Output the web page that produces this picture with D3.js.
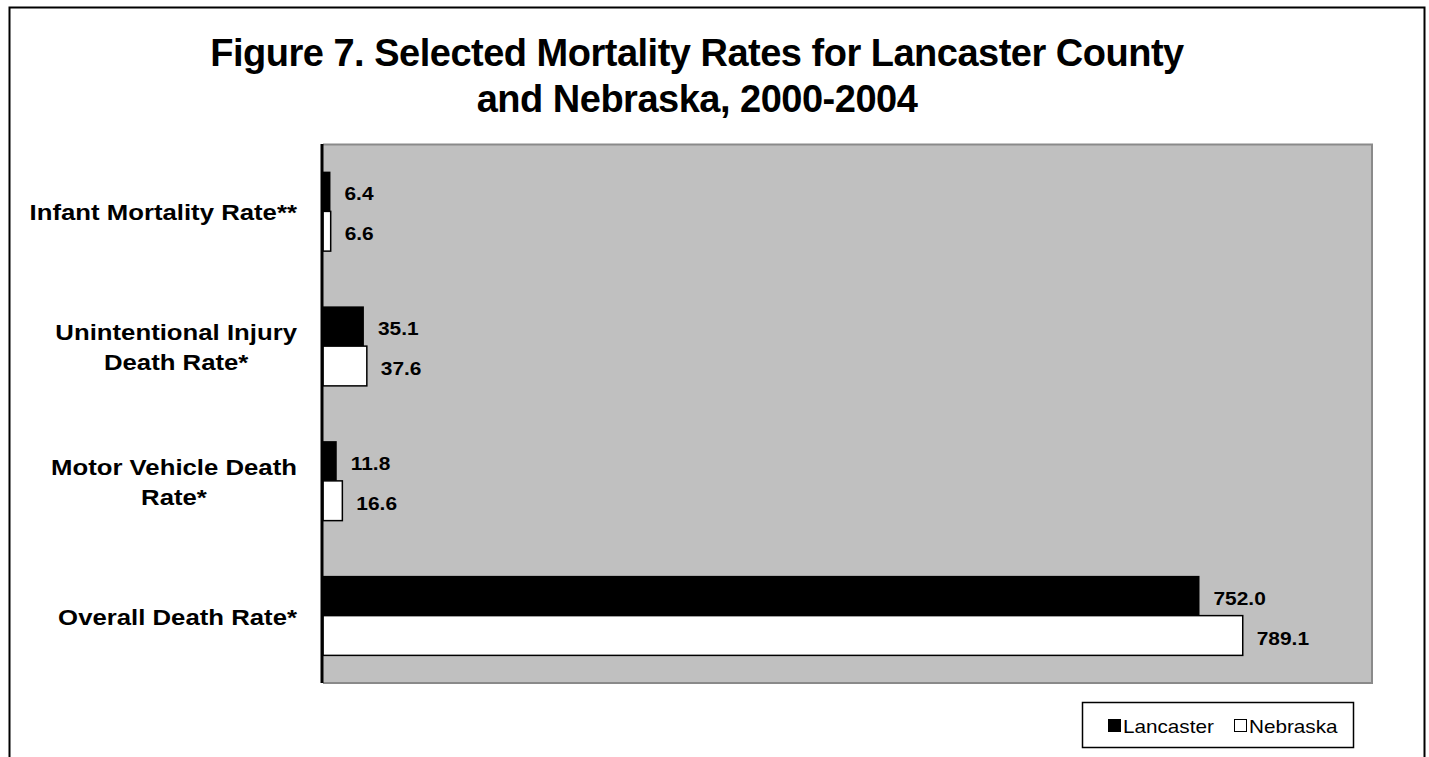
<!DOCTYPE html>
<html>
<head>
<meta charset="utf-8">
<script src="https://cdn.jsdelivr.net/npm/d3@7"></script>
<style>
  html, body { margin: 0; padding: 0; background: #fff; }
  svg { display: block; }
  text { font-family: "Liberation Sans", Arial, sans-serif; fill: #000; }
</style>
</head>
<body>
<svg id="chart" width="1429" height="757"></svg>
<script>
// ---- data ----
const titleLines = ["Figure 7. Selected Mortality Rates for Lancaster County", "and Nebraska, 2000-2004"];
const categories = ["Infant Mortality Rate**", "Unintentional Injury Death Rate*", "Motor Vehicle Death Rate*", "Overall Death Rate*"];
const categoryLines = [["Infant Mortality Rate**"], ["Unintentional Injury", "Death Rate*"], ["Motor Vehicle Death", "Rate*"], ["Overall Death Rate*"]];
const seriesNames = ["Lancaster", "Nebraska"];
const lancaster = [6.4, 35.1, 11.8, 752.0];
const nebraska = [6.6, 37.6, 16.6, 789.1];
const xDomain = [0, 900];

// ---- layout ----
const svg = d3.select("#chart");
const plot = { left: 323, right: 1372, top: 144, bottom: 683 };
const SX = 1.15; // horizontal text stretch of the original rendering

// outer frame
svg.append("rect").attr("x", 9.5).attr("y", 7.5).attr("width", 1415).attr("height", 820)
  .attr("fill", "#fff").attr("stroke", "#000").attr("stroke-width", 2);

// title
const titleG = svg.append("g");
titleLines.forEach((t, i) => {
  titleG.append("text")
    .attr("transform", `translate(697,${66 + i * 46})`)
    .attr("text-anchor", "middle")
    .attr("font-size", 38).attr("font-weight", "bold")
    .attr("letter-spacing", -0.5)
    .text(t);
});

// scales
const x = d3.scaleLinear().domain(xDomain).range([plot.left, plot.right]);
const y = d3.scaleBand().domain(categories).range([plot.top, plot.bottom])
  .paddingInner(0.41).paddingOuter(0.205);
const ySub = d3.scaleBand().domain(seriesNames).range([0, y.bandwidth()]);

// plot background
svg.append("rect").attr("x", plot.left).attr("y", plot.top)
  .attr("width", plot.right - plot.left).attr("height", plot.bottom - plot.top)
  .attr("fill", "#c0c0c0");
// gray border top/right/bottom
svg.append("path")
  .attr("d", `M${plot.left},${plot.top + 0.5}H${plot.right}V${plot.bottom}H${plot.left}`)
  .attr("fill", "none").attr("stroke", "#8a8a8a").attr("stroke-width", 2);

// bars
const rows = categories.map((c, i) => ({ c, vals: [lancaster[i], nebraska[i]] }));
const groups = svg.append("g").selectAll("g").data(rows).join("g")
  .attr("transform", d => `translate(0,${y(d.c)})`);

groups.selectAll("rect").data(d => d.vals.map((v, j) => ({ v, s: seriesNames[j] })))
  .join("rect")
  .attr("x", x(0))
  .attr("y", d => ySub(d.s))
  .attr("width", d => x(d.v) - x(0))
  .attr("height", ySub.bandwidth())
  .attr("fill", d => d.s === "Lancaster" ? "#000" : "#fff")
  .attr("stroke", "#000")
  .attr("stroke-width", d => d.s === "Lancaster" ? 0 : 1.5);

groups.selectAll("text.val").data(d => d.vals.map((v, j) => ({ v, s: seriesNames[j] })))
  .join("text").attr("class", "val")
  .attr("transform", d => `translate(${x(d.v) + 14},${ySub(d.s) + ySub.bandwidth() / 2 + 9}) scale(1.1,1)`)
  .attr("font-size", 19).attr("font-weight", "bold")
  .text(d => d.v.toFixed(1));

// left axis
const axis = svg.append("g").attr("transform", `translate(${plot.left - 1},0)`)
  .call(d3.axisLeft(y).tickSize(0).tickFormat(""));
axis.select(".domain").attr("stroke", "#000").attr("stroke-width", 3)
  .attr("d", `M0,${plot.top}V${plot.bottom}`);

// category labels
const labG = svg.append("g");
const LSX = 1.17;
categories.forEach((c, i) => {
  const lines = categoryLines[i];
  const cy = y(c) + y.bandwidth() / 2;
  const g = labG.append("g");
  const texts = lines.map((ln, k) => g.append("text")
    .attr("font-size", 22).attr("font-weight", "bold")
    .attr("text-anchor", "middle")
    .text(ln));
  const widths = texts.map(t => t.node().getComputedTextLength() * LSX);
  const maxW = d3.max(widths);
  const cx = 297 - maxW / 2;
  const n = lines.length;
  texts.forEach((t, k) => {
    const by = cy + 9 + (k - (n - 1) / 2) * 30;
    t.attr("transform", `translate(${cx},${by}) scale(${LSX},1)`);
  });
});

// legend
const leg = svg.append("g");
leg.append("rect").attr("x", 1082.5).attr("y", 702.5).attr("width", 271).attr("height", 45)
  .attr("fill", "#fff").attr("stroke", "#000").attr("stroke-width", 1.5);
const legX = [1108, 1234];
seriesNames.forEach((s, i) => {
  leg.append("rect").attr("x", legX[i] + 0.5).attr("y", 719.5).attr("width", 12).attr("height", 12)
    .attr("fill", i === 0 ? "#000" : "#fff").attr("stroke", "#000").attr("stroke-width", 1);
  leg.append("text")
    .attr("transform", `translate(${legX[i] + 15},${733}) scale(${SX},1)`)
    .attr("font-size", 18)
    .text(s);
});
</script>
</body>
</html>
